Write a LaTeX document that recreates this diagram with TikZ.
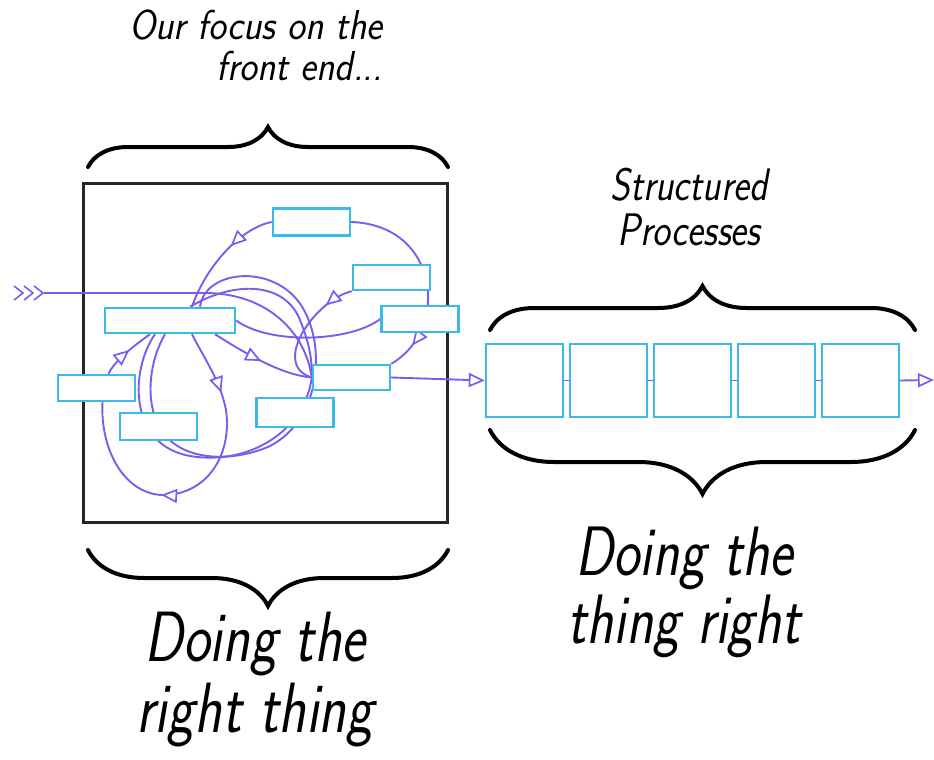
\documentclass[tikz,border=0pt]{standalone}
\usepackage{graphicx}
\usetikzlibrary{decorations.pathreplacing,decorations.markings,arrows.meta}
\definecolor{boxcyan}{RGB}{60,185,235}
\definecolor{flow}{RGB}{122,92,238}
\tikzset{
  hand/.style={font=\sffamily\itshape, text=black, inner sep=0pt},
  proc/.style={draw=boxcyan, line width=2.4pt, fill=white, inner sep=0pt, minimum width=77pt, minimum height=26pt},
  bigproc/.style={draw=boxcyan, line width=2.4pt, fill=white, inner sep=0pt, minimum width=77pt, minimum height=73pt},
  flowline/.style={draw=flow, line width=1.9pt},
  tip/.tip={Triangle[fill=white, length=16pt, width=14pt, line width=1.7pt]},
  midarrow/.style={postaction={decorate}, decoration={markings, mark=at position #1 with {\arrow[flow]{tip}}}},
  twoarrows/.style 2 args={postaction={decorate}, decoration={markings, mark=at position #1 with {\arrow[flow]{tip}}, mark=at position #2 with {\arrow[flow]{tip}}}},
  bracetop/.style={draw=black, line width=4pt, line cap=round, decorate, decoration={brace, amplitude=#1}},
  frame/.style={draw=black!85, line width=3pt}
}
\begin{document}
\begin{tikzpicture}[x=1pt, y=-1pt]
\useasboundingbox (0,0) rectangle (934,760);
% frame
\draw[frame] (83,183) rectangle (447,522);
% braces
\draw[bracetop=40] (88,167) -- (448,167);
\draw[bracetop=56] (448,550) -- (88,550);
\draw[bracetop=44] (490,330) -- (915,330);
\draw[bracetop=64] (915,430) -- (490,430);
% texts
\node[hand, anchor=base east] (t1) at (383,40) {\scalebox{1}[1.1]{\fontsize{38}{40}\selectfont Our focus on the}};
\node[hand, anchor=base east] (t1b) at (383,81) {\scalebox{1}[1.1]{\fontsize{38}{40}\selectfont front end...}};
\node[hand, anchor=base] (t2) at (689,245) {\scalebox{1}[1.2]{\fontsize{38}{36}\selectfont\begin{tabular}[b]{@{}c@{}}Structured\\Processes\end{tabular}}};
\node[hand, anchor=base] (t3) at (684,643) {\scalebox{1}[1.25]{\fontsize{56}{50.4}\selectfont\begin{tabular}[b]{@{}c@{}}Doing the\\thing right\end{tabular}}};
\node[hand, anchor=base] (t4) at (255,732) {\scalebox{1}[1.25]{\fontsize{57}{56}\selectfont\begin{tabular}[b]{@{}c@{}}Doing the\\right thing\end{tabular}}};
% coordinates
\coordinate (in) at (44,293);
\coordinate (out) at (934,380);
% input chevrons
\foreach \cx in {14,24,34} {\draw[flowline, line width=1.6pt] (\cx,286) -- (\cx+9,293) -- (\cx,300);}
% boxes positions
\path (311.5,222) coordinate (pA) (391.5,277.5) coordinate (pB) (420,319) coordinate (pC)
      (170,320.5) coordinate (pD) (351.5,377.5) coordinate (pE) (96.5,388) coordinate (pF)
      (295,412.5) coordinate (pG) (158.5,426.5) coordinate (pH);
\node[proc, minimum height=27pt] (A) at (pA) {};
\node[proc, minimum height=25pt] (B) at (pB) {};
\node[proc] (C) at (pC) {};
\node[proc, minimum width=130pt, minimum height=25pt] (D) at (pD) {};
\node[proc, minimum height=25pt] (E) at (pE) {};
\node[proc] (F) at (pF) {};
\node[proc, minimum height=29pt] (G) at (pG) {};
\node[proc, minimum height=27pt] (H) at (pH) {};
% curves
\draw[flowline] (in) -- (205,293) .. controls (265,293) and (305,330) .. (E.west);
\draw[flowline, midarrow=0.4] (A.west) .. controls (240,228) and (205,268) .. ([xshift=22pt]D.north);
\draw[flowline, midarrow=0.86] (A.east) .. controls (440,225) and (450,330) .. (E.north east);
\draw[flowline, midarrow=0.25] (B.south west) .. controls (315,300) and (270,365) .. (E.west);
\draw[flowline] (C.west) .. controls (350,342) and (270,345) .. (D.east);
\draw[flowline] ([xshift=30pt]D.north) .. controls (205,268) and (280,262) .. (305,312)
      .. controls (325,350) and (320,420) .. (270,446)
      .. controls (230,464) and (172,462) .. (156,420)
      .. controls (146,395) and (150,360) .. ([xshift=-5pt]D.south);
\draw[flowline] ([xshift=-15pt]D.south) .. controls (130,370) and (128,445) .. (190,456)
      .. controls (250,466) and (305,430) .. (E.west);
\draw[flowline] ([xshift=20pt]D.north) .. controls (235,280) and (285,282) .. (300,320) .. controls (310,345) and (312,360) .. (E.west);
\draw[flowline, midarrow=0.5] ([xshift=45pt]D.south) .. controls (240,350) and (280,375) .. (E.west);
\draw[flowline, twoarrows={0.2}{0.63}] ([xshift=22pt]D.south) .. controls (205,360) and (220,380) .. (226,410)
      .. controls (232,452) and (210,492) .. (167,495)
      .. controls (125,497) and (100,450) .. ([xshift=6pt]F.south);
\draw[flowline, midarrow=0.55] ([xshift=12pt]F.north) .. controls (115,360) and (135,345) .. ([xshift=-20pt]D.south);
% redraw boxes on top
\foreach \n/\w/\h in {A/77/27, B/77/25, C/77/26, D/130/25, E/77/25, F/77/26, G/77/29, H/77/27}
  {\node[proc, minimum width=\w pt, minimum height=\h pt] at (p\n) {};}
% five process boxes
\foreach \i in {1,...,5} {\node[bigproc] (b\i) at (440.5+84*\i,380.5) {};}
\draw[flowline, -{tip}] (E.east) -- (b1.west);
\draw[flowline] (b1.east) -- (b2.west);
\draw[flowline] (b2.east) -- (b3.west);
\draw[flowline] (b3.east) -- (b4.west);
\draw[flowline] (b4.east) -- (b5.west);
\draw[flowline, -{tip}] (b5.east) -- (out);
\end{tikzpicture}
\end{document}
